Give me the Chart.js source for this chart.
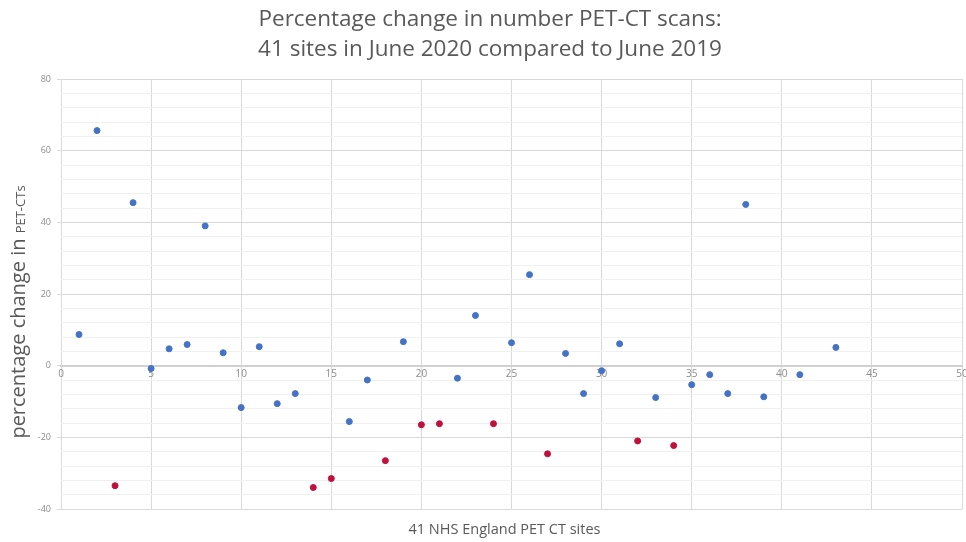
<!DOCTYPE html>
<html>
<head>
<meta charset="utf-8">
<title>PET-CT scans June 2020 vs June 2019</title>
<script src="https://cdn.jsdelivr.net/npm/chart.js@4.4.0/dist/chart.umd.min.js"></script>
<style>
  html, body { margin: 0; padding: 0; background: #ffffff; }
</style>
</head>
<body>
<canvas id="petChart" width="966" height="542"></canvas>
<script>
// Sites that stayed near / above last year (blue)
const blueSites  = [1, 2, 4, 5, 6, 7, 8, 9, 10, 11, 12, 13, 16, 17, 19, 22, 23, 25, 26, 28, 29, 30, 31, 33, 35, 36, 37, 38, 39, 41, 43];
const blueChange = [8.7, 65.6, 45.5, -0.8, 4.7, 5.9, 39, 3.6, -11.7, 5.3, -10.6, -7.8, -15.6, -4, 6.7, -3.5, 14, 6.4, 25.4, 3.4, -7.8, -1.4, 6.1, -8.9, -5.3, -2.5, -7.8, 45, -8.7, -2.5, 5.1];

// Sites with a big drop (red)
const redSites  = [3, 14, 15, 18, 20, 21, 24, 27, 32, 34];
const redChange = [-33.5, -34, -31.5, -26.5, -16.5, -16.2, -16.2, -24.6, -21, -22.3];

const xRange = [0, 50];
const yRange = [-40, 80];
const yLabelEvery = 20;

const titleLines = ['Percentage change in number PET-CT scans:', '41 sites in June 2020 compared to June 2019'];
const xTitle = '41 NHS England PET CT sites';
const yTitleMain = 'percentage change in ';
const yTitleSmall = 'PET-CTs';

const toPoints = (xs, ys) => xs.map((x, i) => ({ x: x, y: ys[i] }));

// titles drawn by hand: the main one sits a bit right of the canvas centre,
// the y one mixes two font sizes
const titlesPlugin = {
    id: 'titles',
    afterDraw(chart) {
        const ctx = chart.ctx;
        const area = chart.chartArea;
        ctx.save();
        ctx.fillStyle = '#595959';
        ctx.textBaseline = 'middle';
        ctx.textAlign = 'center';

        ctx.font = '22.5px "Open Sans"';
        ctx.fillText(titleLines[0], 490, 20);
        ctx.fillText(titleLines[1], 490, 50);

        ctx.font = '14.5px "Open Sans"';
        ctx.fillText(xTitle, (area.left + area.right) / 2 - 7, 530);

        ctx.translate(19, 312);
        ctx.rotate(-Math.PI / 2);
        ctx.font = '20px "Open Sans"';
        const w1 = ctx.measureText(yTitleMain).width;
        ctx.font = '13px "Open Sans"';
        const w2 = ctx.measureText(yTitleSmall).width;
        const x = -(w1 + w2) / 2;
        ctx.textAlign = 'left';
        ctx.font = '20px "Open Sans"';
        ctx.fillText(yTitleMain, x, 0);
        ctx.font = '13px "Open Sans"';
        ctx.fillText(yTitleSmall, x + w1, 2);
        ctx.restore();
    }
};

const ctx = document.getElementById('petChart').getContext('2d');
const petChart = new Chart(ctx, {
    type: 'scatter',
    data: {
        datasets: [
            {
                label: 'change',
                data: toPoints(blueSites, blueChange),
                backgroundColor: '#4472C4',
                borderColor: '#4472C4',
                pointRadius: 3,
                pointHoverRadius: 3
            },
            {
                label: 'large drop',
                data: toPoints(redSites, redChange),
                backgroundColor: '#C0103C',
                borderColor: '#C0103C',
                pointRadius: 3,
                pointHoverRadius: 3
            }
        ]
    },
    options: {
        responsive: false,
        animation: false,
        layout: { padding: { left: 0, right: 3, top: 79, bottom: 33 } },
        plugins: {
            legend: { display: false },
            tooltip: { enabled: false },
            title: { display: false }
        },
        scales: {
            x: {
                type: 'linear',
                position: { y: 0 },
                min: xRange[0],
                max: xRange[1],
                afterFit(scale) { scale.paddingRight = 0; scale.paddingLeft = 0; },
                ticks: {
                    stepSize: 5,
                    color: '#8c8c8c',
                    font: { family: '"Open Sans"', size: 10 },
                    padding: 2,
                    maxRotation: 0
                },
                grid: {
                    color: '#d9d9d9',
                    drawTicks: false
                },
                border: { color: '#d0d0d0', width: 2 }
            },
            y: {
                min: yRange[0],
                max: yRange[1],
                afterFit(scale) { scale.width = 61; },
                ticks: {
                    stepSize: 4,
                    color: '#8c8c8c',
                    font: { family: '"Open Sans"', size: 9 },
                    padding: 6,
                    autoSkip: false,
                    callback: v => (v % yLabelEvery === 0 ? v : '')
                },
                grid: {
                    color: c => (c.tick && c.tick.value % yLabelEvery === 0 ? '#d9d9d9' : '#f0f0f0'),
                    tickLength: 4,
                    tickColor: c => (c.tick && c.tick.value % yLabelEvery === 0 ? '#d9d9d9' : 'rgba(0,0,0,0)')
                },
                border: { display: false }
            }
        }
    },
    plugins: [titlesPlugin]
});
</script>
</body>
</html>
